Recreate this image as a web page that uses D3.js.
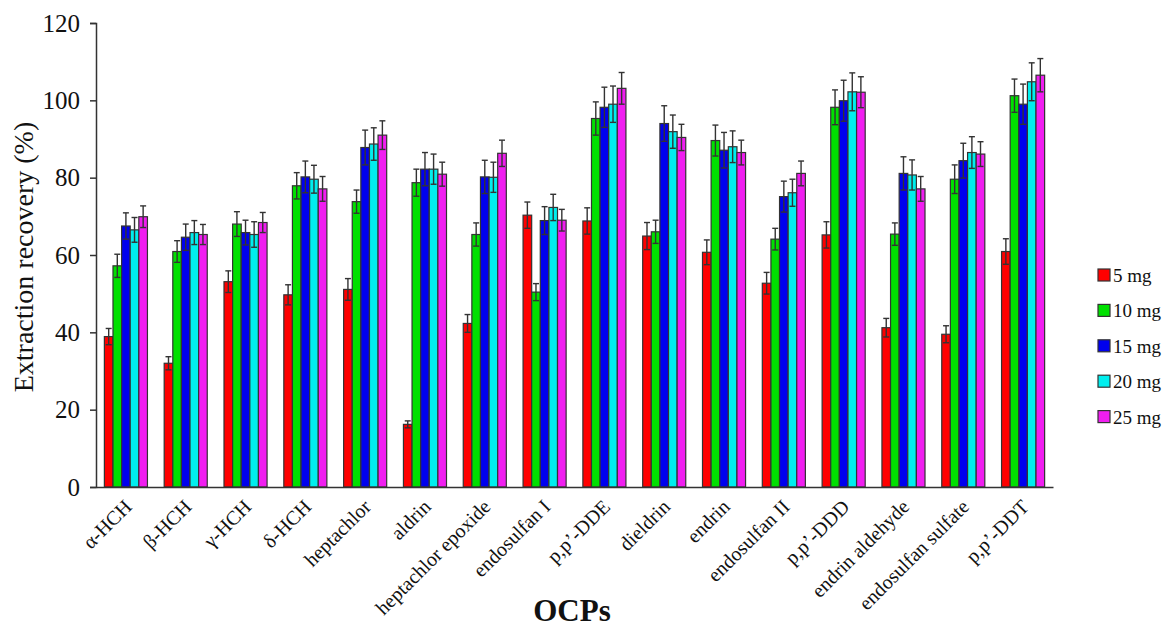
<!DOCTYPE html>
<html>
<head>
<meta charset="utf-8">
<script src="https://cdn.jsdelivr.net/npm/d3@7"></script>
<style>
  html, body { margin: 0; padding: 0; background: #fff; }
  svg { display: block; font-family: "Liberation Serif", "Times New Roman", serif; }
</style>
</head>
<body>
<svg id="chart" width="1166" height="628"></svg>
<script>
const categories = ["α-HCH","β-HCH","γ-HCH","δ-HCH","heptachlor","aldrin","heptachlor epoxide","endosulfan I","p,p’-DDE","dieldrin","endrin","endosulfan II","p,p’-DDD","endrin aldehyde","endosulfan sulfate","p,p’-DDT"];
const seriesNames = ["5 mg","10 mg","15 mg","20 mg","25 mg"];
const colors = ["#ff0000","#00e000","#0000ee","#00eeee","#f01ef0"];

const v5  = [38.9,32.0,53.1,49.7,51.1,16.2,42.3,70.3,68.8,64.9,60.7,52.7,65.2,41.2,39.5,60.9];
const v10 = [57.2,60.9,68.0,77.9,73.8,78.7,65.3,50.4,95.3,66.0,89.6,64.1,98.2,65.4,79.6,101.2];
const v15 = [67.5,64.6,65.8,80.2,87.8,82.2,80.2,68.9,98.2,94.0,87.1,75.1,99.9,81.1,84.4,99.0];
const v20 = [66.5,65.8,65.3,79.6,88.7,82.2,80.1,72.3,99.0,91.9,88.0,76.1,102.2,80.7,86.5,104.8];
const v25 = [69.9,65.3,68.4,77.1,91.0,80.9,86.3,69.0,103.1,90.4,86.5,81.1,102.1,77.1,86.1,106.5];

const e5  = [2.1,1.7,2.8,2.6,2.8,0.9,2.3,3.4,3.4,3.5,3.2,2.8,3.4,2.4,2.2,3.3];
const e10 = [3.0,2.8,3.2,3.4,3.0,3.5,3.0,2.2,4.3,3.0,4.0,2.8,4.5,2.9,3.7,4.3];
const e15 = [3.4,3.4,3.2,4.1,4.5,4.3,4.3,3.6,5.2,4.6,4.6,4.0,5.3,4.3,4.5,5.2];
const e20 = [3.2,3.1,3.3,3.6,4.2,3.9,3.9,3.4,4.7,4.3,4.1,3.5,4.9,3.9,4.1,4.9];
const e25 = [2.8,2.6,2.6,3.2,3.7,3.1,3.4,2.8,4.1,3.4,3.2,3.2,4.0,3.2,3.2,4.3];

const yTicks = [0,20,40,60,80,100,120];

const values = [v5, v10, v15, v20, v25];
const errors = [e5, e10, e15, e20, e25];

const FONT = "'Liberation Serif', 'Times New Roman', serif";
const svg = d3.select("#chart");
const plotLeft = 96, plotRight = 1053, plotTop = 23, plotBottom = 487;
const ink = "#333";

const y = d3.scaleLinear().domain([0,120]).range([plotBottom, plotTop]);
const x0 = d3.scaleBand().domain(categories).range([plotLeft, plotRight]).paddingInner(0.28).paddingOuter(0.14);
const x1 = d3.scaleBand().domain(seriesNames).range([0, x0.bandwidth()]);

// Y axis
const yAxis = svg.append("g").attr("transform", `translate(${plotLeft},0)`)
  .call(d3.axisLeft(y).tickValues(yTicks).tickSize(6).tickPadding(10).tickFormat(d3.format("d")));
yAxis.attr("font-family", FONT);
yAxis.select(".domain").attr("stroke", ink).attr("stroke-width", 1.5);
yAxis.selectAll(".tick line").attr("stroke", ink).attr("stroke-width", 1.5);
yAxis.selectAll(".tick text").attr("font-size", 25).attr("fill", "#111");

// bars
const groups = svg.append("g").selectAll("g").data(categories).join("g")
  .attr("transform", d => `translate(${x0(d)},0)`);

seriesNames.forEach((s, si) => {
  groups.append("rect")
    .attr("x", x1(s))
    .attr("width", x1.bandwidth())
    .attr("y", (d, i) => y(values[si][i]))
    .attr("height", (d, i) => y(0) - y(values[si][i]))
    .attr("fill", colors[si])
    .attr("stroke", ink).attr("stroke-width", 1.2);
});

// error bars
seriesNames.forEach((s, si) => {
  const cx = x1(s) + x1.bandwidth() / 2;
  const eb = groups.append("g").attr("stroke", ink).attr("stroke-width", 1.4);
  eb.append("line")
    .attr("x1", cx).attr("x2", cx)
    .attr("y1", (d, i) => y(values[si][i] + errors[si][i]))
    .attr("y2", (d, i) => y(values[si][i] - errors[si][i]));
  eb.append("line")
    .attr("x1", cx - 3).attr("x2", cx + 3)
    .attr("y1", (d, i) => y(values[si][i] + errors[si][i]))
    .attr("y2", (d, i) => y(values[si][i] + errors[si][i]));
  eb.append("line")
    .attr("x1", cx - 3).attr("x2", cx + 3)
    .attr("y1", (d, i) => y(values[si][i] - errors[si][i]))
    .attr("y2", (d, i) => y(values[si][i] - errors[si][i]));
});

// X axis
const xAxis = svg.append("g").attr("transform", `translate(0,${plotBottom})`)
  .call(d3.axisBottom(x0).tickSize(0).tickPadding(0));
xAxis.attr("font-family", FONT);
xAxis.select(".domain").attr("stroke", ink).attr("stroke-width", 1.5);
xAxis.selectAll(".tick text")
  .attr("font-size", 20).attr("fill", "#111")
  .attr("text-anchor", "end")
  .attr("dy", null).attr("y", 0)
  .attr("transform", "translate(7,21) rotate(-45)");

// axis titles
svg.append("text")
  .attr("transform", `translate(33,${(plotTop + plotBottom) / 2 + 2}) rotate(-90)`)
  .attr("text-anchor", "middle").attr("font-size", 28).attr("fill", "#111").attr("font-family", FONT)
  .text("Extraction recovery (%)");

svg.append("text")
  .attr("x", 572).attr("y", 621)
  .attr("text-anchor", "middle").attr("font-size", 31).attr("font-weight", "bold").attr("fill", "#111").attr("font-family", FONT)
  .text("OCPs");

// legend
const legend = svg.append("g").attr("transform", "translate(1098,275)").attr("font-family", FONT);
seriesNames.forEach((s, si) => {
  const g = legend.append("g").attr("transform", `translate(0,${si * 35.4})`);
  g.append("rect").attr("x", 0).attr("y", -6).attr("width", 12).attr("height", 12)
    .attr("fill", colors[si]).attr("stroke", ink).attr("stroke-width", 1.2);
  g.append("text").attr("x", 15).attr("y", 7).attr("font-size", 19).attr("fill", "#111").text(s);
});
</script>
</body>
</html>
